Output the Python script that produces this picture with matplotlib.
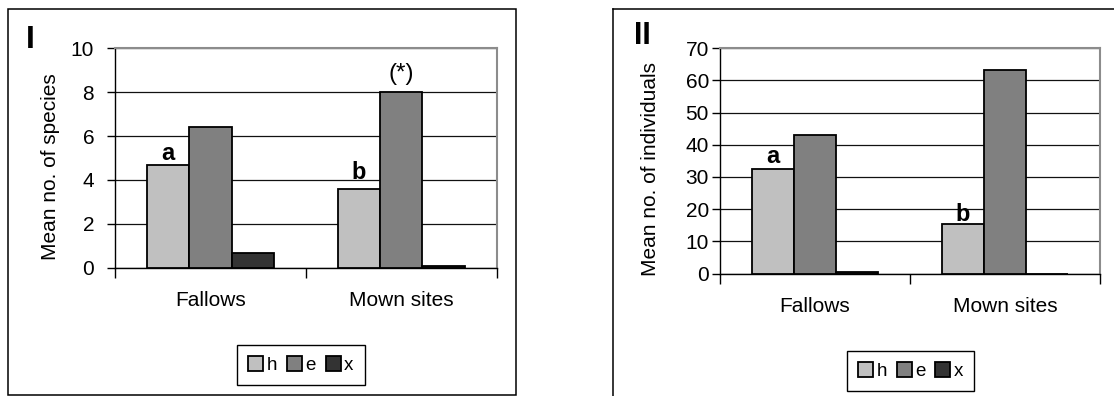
import matplotlib
matplotlib.use("Agg")
import matplotlib.pyplot as plt
from matplotlib.lines import Line2D
from matplotlib.patches import Rectangle
import numpy as np

plt.rcParams["font.family"] = ["Liberation Sans", "DejaVu Sans"]

# ---- data ----
categories = ["Fallows", "Mown sites"]
series_names = ["h", "e", "x"]
species_h = [4.7, 3.6]
species_e = [6.4, 8.0]
species_x = [0.65, 0.1]
indiv_h = [32.5, 15.3]
indiv_e = [43.1, 63.3]
indiv_x = [0.5, 0.0]
species_ticks = [0, 2, 4, 6, 8, 10]
indiv_ticks = [0, 10, 20, 30, 40, 50, 60, 70]

colors = ["#c0c0c0", "#808080", "#333333"]

W, H = 1114, 396
fig = plt.figure(figsize=(W / 100, H / 100), dpi=100)


def fx(px):
    return px / W


def fy(py):
    return 1 - py / H


def panel(rect, values, ticks, ylabel, label_xy, tick_pad):
    ax = fig.add_axes(rect)
    n = len(values)
    bw = 1 / 4.5
    x = np.arange(len(categories))
    bars = []
    for j, (vals, c, name) in enumerate(zip(values, colors, series_names)):
        b = ax.bar(x + (j - (n - 1) / 2) * bw, vals, bw, color=c,
                   edgecolor="black", linewidth=1.3, label=name, zorder=3)
        bars.append(b)
    ax.set_xlim(-0.5, len(categories) - 0.5)
    ax.set_ylim(ticks[0], ticks[-1])
    ax.set_yticks(ticks)
    ax.tick_params(axis="y", direction="out", length=6, width=1,
                   labelsize=15, pad=tick_pad)
    # category separators as major ticks, category names as minor ticks
    ax.set_xticks([-0.5, 0.5, 1.5])
    ax.set_xticklabels([])
    ax.tick_params(axis="x", which="major", direction="out", length=7, width=1)
    ax.set_xticks(x, minor=True)
    ax.set_xticklabels(categories, minor=True, fontsize=15)
    ax.tick_params(axis="x", which="minor", length=0, pad=17)
    ax.yaxis.grid(True, color="#111111", linewidth=0.9, zorder=0)
    ax.set_axisbelow(True)
    for s in ("top", "right"):
        ax.spines[s].set_color("#8c8c8c")
        ax.spines[s].set_linewidth(1.5)
    for s in ("left", "bottom"):
        ax.spines[s].set_color("black")
        ax.spines[s].set_linewidth(1.0)
    ax.set_ylabel(ylabel, fontsize=15)
    ax.yaxis.label.set_va("center")
    ax.yaxis.set_label_coords(*label_xy)
    return ax, bars


axI, barsI = panel([fx(115), fy(267.7), fx(496.5) - fx(115), fy(48.3) - fy(267.7)],
                   [species_h, species_e, species_x], species_ticks,
                   "Mean no. of species", (-0.170, 0.459), 9)
axII, barsII = panel([fx(720), fy(273.5), fx(1100) - fx(720), fy(48.3) - fy(273.5)],
                     [indiv_h, indiv_e, indiv_x], indiv_ticks,
                     "Mean no. of individuals", (-0.182, 0.464), 2)


def mark(ax, xpos, yval, text, dy, bold=True, size=17):
    ax.annotate(text, (xpos, yval), xytext=(0, dy), textcoords="offset points",
                ha="center", va="baseline", fontsize=size,
                fontweight="bold" if bold else "normal", zorder=5)


bw = 1 / 4.5
mark(axI, 0 - bw, species_h[0], "a", 3.5)
mark(axI, 1 - bw, species_h[1], "b", 7)
mark(axI, 1, species_e[1], "(*)", 9, bold=False, size=17.5)
mark(axII, 0 - bw, indiv_h[0], "a", 4.5)
mark(axII, 1 - bw, indiv_h[1], "b", 2)

# panel letters
fig.text(fx(30), fy(39.5), "I", fontsize=23, fontweight="bold", ha="center", va="center")
fig.text(fx(642.5), fy(35.5), "II", fontsize=22, fontweight="bold", ha="center", va="center")

# legends
for bars, cx, cy in ((barsI, 301, 365.3), (barsII, 910.5, 371)):
    leg = fig.legend(bars, series_names, loc="center", bbox_to_anchor=(fx(cx), fy(cy)),
                     ncol=3, fontsize=13.5, handlelength=0.8, handleheight=0.8,
                     handletextpad=0.2, columnspacing=0.5, borderpad=0.6,
                     fancybox=False, framealpha=1, edgecolor="black")
    leg.get_frame().set_linewidth(1.0)

# panel frames
fig.add_artist(Rectangle((fx(8), fy(395)), fx(516) - fx(8), fy(9) - fy(395),
                         transform=fig.transFigure, fill=False,
                         edgecolor="black", linewidth=1.1))
fig.add_artist(Line2D([fx(613), 1], [fy(9), fy(9)], transform=fig.transFigure,
                      color="black", linewidth=1.1))
fig.add_artist(Line2D([fx(613), fx(613)], [0, fy(9)], transform=fig.transFigure,
                      color="black", linewidth=1.1))

fig.savefig("out.png", dpi=100)
